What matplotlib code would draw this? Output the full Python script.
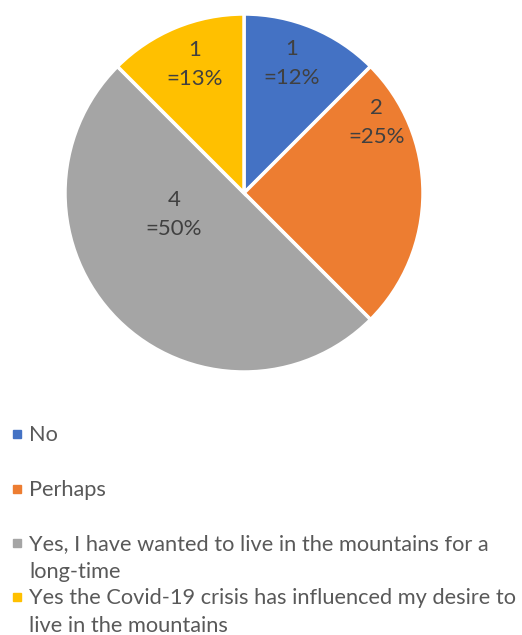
import numpy as np
import matplotlib.pyplot as plt

categories = ["No", "Perhaps",
              "Yes, I have wanted to live in the mountains for a\nlong-time",
              "Yes the Covid-19 crisis has influenced my desire to\nlive in the mountains"]
counts = [1, 2, 4, 1]
pct_labels = ["12%", "25%", "50%", "13%"]
colors = ['#4472C4', '#ED7D31', '#A5A5A5', '#FFC000']

plt.rcParams['font.family'] = ['Lato', 'DejaVu Sans']

W, H = 522, 635
fig = plt.figure(figsize=(W / 100, H / 100), dpi=100)

# pie area (pixel box converted to figure fractions)
cx, cy, r = 244, 193, 179
ax = fig.add_axes([(cx - r) / W, 1 - (cy + r) / H, 2 * r / W, 2 * r / H])
wedges, _ = ax.pie(counts, colors=colors, startangle=90, counterclock=False,
                   wedgeprops=dict(edgecolor='white', linewidth=2.5))
ax.set_xlim(-1, 1)
ax.set_ylim(-1, 1)

# label placement (angle in degrees, fraction of radius), Excel "best fit" style
label_pos = [(70, 0.77), (28, 0.84), (197, 0.41), (111, 0.77)]
for n, p, (ang, d) in zip(counts, pct_labels, label_pos):
    a = np.deg2rad(ang)
    ax.text(d * np.cos(a), d * np.sin(a), f"{n}\n={p}", ha='center', va='center',
            fontsize=16, color='#404040', linespacing=1.6)

# legend, drawn by hand: baseline of first line per entry, 28px per wrapped line
leg_base = [441, 496, 550, 604]
for lab, c, y in zip(categories, colors, leg_base):
    fig.patches.append(plt.Rectangle((13 / W, 1 - (y - 3) / H), 8 / W, 8 / H,
                                     transform=fig.transFigure, color=c))
    for i, line in enumerate(lab.split("\n")):
        fig.text(29 / W, 1 - (y + 28 * i) / H, line, ha='left', va='baseline',
                 fontsize=15.7, color='#595959')

fig.savefig('out.png', dpi=100)
